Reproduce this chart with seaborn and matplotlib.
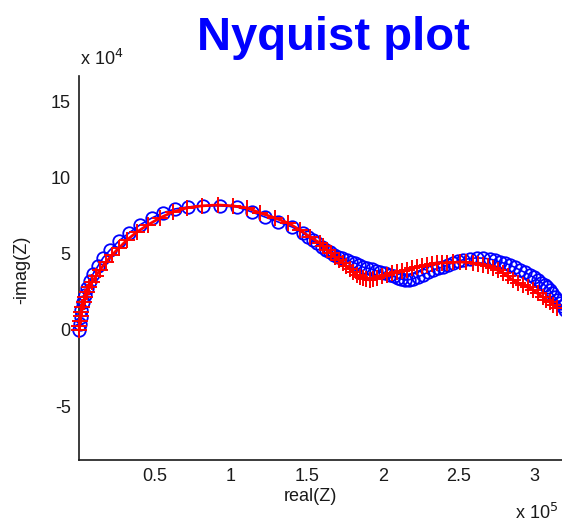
import matplotlib
matplotlib.use("Agg")
import matplotlib.pyplot as plt
import seaborn as sns
import pandas as pd

# Measured impedance (circles) and fitted model (plus signs)
# real part in units of 1e5 ohm, -imag part in units of 1e4 ohm
meas_real = [0.003, 0.007, 0.010, 0.016, 0.026, 0.039, 0.053, 0.072, 0.092, 0.125,
             0.158, 0.204, 0.263, 0.329, 0.401, 0.480, 0.553, 0.632, 0.717, 0.816,
             0.928, 1.040, 1.138, 1.224, 1.309, 1.401, 1.474, 1.510, 1.539, 1.570,
             1.599, 1.625, 1.651, 1.678, 1.704, 1.733, 1.763, 1.790, 1.816, 1.842,
             1.868, 1.898, 1.928, 1.955, 1.980, 2.013, 2.046, 2.072, 2.099, 2.122,
             2.145, 2.171, 2.197, 2.230, 2.263, 2.296, 2.329, 2.362, 2.395, 2.428,
             2.461, 2.494, 2.526, 2.572, 2.618, 2.661, 2.704, 2.737, 2.770, 2.803,
             2.836, 2.868, 2.901, 2.934, 2.967, 2.994, 3.020, 3.043, 3.066, 3.083,
             3.099, 3.115, 3.132, 3.148, 3.164, 3.180, 3.197]
meas_imag = [0.00, 0.39, 0.86, 1.32, 1.84, 2.30, 2.76, 3.22, 3.68, 4.21,
             4.74, 5.26, 5.86, 6.38, 6.91, 7.37, 7.70, 7.96, 8.09, 8.16,
             8.16, 8.09, 7.76, 7.43, 7.11, 6.78, 6.38, 6.12, 5.92, 5.70,
             5.46, 5.28, 5.13, 4.96, 4.80, 4.70, 4.61, 4.50, 4.41, 4.27,
             4.14, 4.07, 4.01, 3.91, 3.82, 3.72, 3.62, 3.52, 3.42, 3.35,
             3.29, 3.30, 3.36, 3.48, 3.62, 3.79, 3.95, 4.05, 4.14, 4.28,
             4.41, 4.51, 4.61, 4.69, 4.74, 4.72, 4.67, 4.58, 4.47, 4.38,
             4.28, 4.12, 3.95, 3.79, 3.62, 3.45, 3.29, 3.12, 2.96, 2.80,
             2.63, 2.40, 2.17, 1.97, 1.78, 1.55, 1.32]

fit_real = [0.000, 0.003, 0.007, 0.010, 0.013, 0.020, 0.030, 0.039, 0.053, 0.069,
            0.086, 0.112, 0.138, 0.178, 0.217, 0.263, 0.316, 0.382, 0.454, 0.533,
            0.618, 0.711, 0.809, 0.914, 1.013, 1.105, 1.191, 1.289, 1.375, 1.454,
            1.520, 1.586, 1.609, 1.632, 1.658, 1.684, 1.711, 1.737, 1.760, 1.783,
            1.806, 1.829, 1.849, 1.868, 1.891, 1.914, 1.938, 1.961, 1.994, 2.026,
            2.059, 2.092, 2.125, 2.158, 2.191, 2.224, 2.257, 2.289, 2.322, 2.355,
            2.388, 2.421, 2.464, 2.507, 2.550, 2.592, 2.625, 2.658, 2.691, 2.724,
            2.757, 2.789, 2.822, 2.855, 2.888, 2.921, 2.954, 2.987, 3.020, 3.053,
            3.076, 3.099, 3.122, 3.145]
fit_imag = [0.00, 0.26, 0.59, 0.92, 1.18, 1.51, 1.84, 2.17, 2.50, 2.83,
            3.16, 3.55, 3.95, 4.47, 4.93, 5.39, 5.92, 6.45, 6.91, 7.37,
            7.76, 8.03, 8.16, 8.22, 8.16, 8.03, 7.70, 7.37, 7.04, 6.58,
            6.12, 5.72, 5.49, 5.26, 5.03, 4.80, 4.60, 4.41, 4.21, 4.01,
            3.80, 3.62, 3.50, 3.42, 3.33, 3.29, 3.34, 3.42, 3.52, 3.62,
            3.72, 3.82, 3.88, 3.95, 4.05, 4.14, 4.21, 4.28, 4.35, 4.41,
            4.41, 4.41, 4.44, 4.47, 4.45, 4.41, 4.35, 4.28, 4.18, 4.08,
            3.92, 3.75, 3.52, 3.29, 3.12, 2.96, 2.80, 2.63, 2.40, 2.17,
            2.00, 1.84, 1.65, 1.45]

x_ticks = [0.5, 1, 1.5, 2, 2.5, 3]
x_tick_labels = ["0.5", "1", "1.5", "2", "2.5", "3"]
y_ticks = [-5, 0, 5, 10, 15]
y_tick_labels = ["-5", "0", "5", "10", "15"]

meas = pd.DataFrame({"real": meas_real, "imag": meas_imag})
fit = pd.DataFrame({"real": fit_real, "imag": fit_imag})

sns.set_style("white")
plt.rcParams["font.family"] = ["Liberation Sans", "DejaVu Sans"]

fig = plt.figure(figsize=(5.62, 5.22), dpi=100)
ax = fig.add_axes([0.1406, 0.1188, 0.8594, 0.7356])

sns.lineplot(data=meas, x="real", y="imag", sort=False, estimator=None, ax=ax,
             color="#0000ff", linewidth=1.2, marker="o", markersize=9,
             markerfacecolor="none", markeredgecolor="#0000ff",
             markeredgewidth=1.3, zorder=3, clip_on=False)
sns.lineplot(data=fit, x="real", y="imag", sort=False, estimator=None, ax=ax,
             color="#ff0000", linewidth=2.0, marker="+", markersize=11,
             markeredgecolor="#ff0000", markeredgewidth=1.4, zorder=4,
             clip_on=False)

ax.set_xlim(0, 3.18)
ax.set_ylim(-8.55, 16.7)

ax.set_xticks(x_ticks)
ax.set_xticklabels(x_tick_labels)
ax.set_yticks(y_ticks)
ax.set_yticklabels(y_tick_labels)
ax.tick_params(direction="in", length=4, width=1, labelsize=13,
               colors="#1a1a1a", pad=6)

for side in ("top", "right"):
    ax.spines[side].set_visible(False)
for side in ("left", "bottom"):
    ax.spines[side].set_color("#1a1a1a")
    ax.spines[side].set_linewidth(1.2)
    ax.spines[side].set_zorder(2)

ax.set_xlabel("")
ax.set_ylabel("")
fig.text(0.553, 0.048, "real(Z)", ha="center", va="center", fontsize=13,
         color="#1a1a1a")
fig.text(0.038, 0.483, "-imag(Z)", ha="center", va="center", fontsize=13,
         rotation=90, color="#1a1a1a")
fig.text(0.142, 0.887, r"x 10$^{4}$", ha="left", va="center", fontsize=13,
         color="#1a1a1a")
fig.text(0.916, 0.017, r"x 10$^{5}$", ha="left", va="center", fontsize=13,
         color="#1a1a1a")

fig.text(0.594, 0.904, "Nyquist plot", ha="center", va="baseline",
         fontsize=34, fontweight="bold", color="#0000ff")

fig.savefig("out.png", dpi=100)
